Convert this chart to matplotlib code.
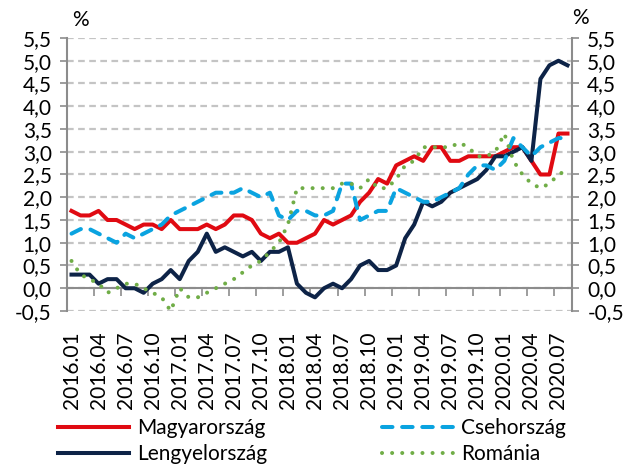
import matplotlib.pyplot as plt
import numpy as np
import pandas as pd
from matplotlib.ticker import FuncFormatter

plt.rcParams['font.family'] = ['Lato', 'DejaVu Sans']

# monthly data 2016.01 - 2020.08
months = pd.period_range('2016-01', '2020-08', freq='M').strftime('%Y.%m').tolist()

hungary = [1.7, 1.6, 1.6, 1.7, 1.5, 1.5, 1.4, 1.3, 1.4, 1.4,
           1.3, 1.5, 1.3, 1.3, 1.3, 1.4, 1.3, 1.4, 1.6, 1.6,
           1.5, 1.2, 1.1, 1.2, 1.0, 1.0, 1.1, 1.2, 1.5, 1.4,
           1.5, 1.6, 1.9, 2.1, 2.4, 2.3, 2.7, 2.8, 2.9, 2.8,
           3.1, 3.1, 2.8, 2.8, 2.9, 2.9, 2.9, 2.9, 3.0, 3.1,
           3.1, 2.8, 2.5, 2.5, 3.4, 3.4]
poland = [0.3, 0.3, 0.3, 0.1, 0.2, 0.2, 0.0, 0.0, -0.1, 0.1,
          0.2, 0.4, 0.2, 0.6, 0.8, 1.2, 0.8, 0.9, 0.8, 0.7,
          0.8, 0.6, 0.8, 0.8, 0.9, 0.1, -0.1, -0.2, 0.0, 0.1,
          0.0, 0.2, 0.5, 0.6, 0.4, 0.4, 0.5, 1.1, 1.4, 1.9,
          1.8, 1.9, 2.1, 2.2, 2.3, 2.4, 2.6, 2.9, 2.9, 3.0,
          3.1, 2.8, 4.6, 4.9, 5.0, 4.9]
czechia = [1.2, 1.3, 1.3, 1.2, 1.1, 1.0, 1.2, 1.1, 1.2, 1.3,
           1.4, 1.6, 1.7, 1.8, 1.9, 2.0, 2.1, 2.1, 2.1, 2.2,
           2.1, 2.0, 2.1, 1.6, 1.5, 1.7, 1.7, 1.6, 1.6, 1.7,
           2.3, 2.3, 1.5, 1.6, 1.7, 1.7, 2.2, 2.1, 2.0, 1.9,
           1.9, 2.0, 2.1, 2.2, 2.5, 2.7, 2.7, 2.6, 2.8, 3.3,
           3.1, 2.9, 3.1, 3.2, 3.3, 3.3]
romania = [0.6, 0.3, 0.2, 0.1, -0.1, 0.0, 0.1, 0.1, 0.0, -0.1,
           -0.2, -0.5, 0.0, -0.2, -0.2, -0.1, 0.0, 0.1, 0.2, 0.35,
           0.5, 0.6, 0.8, 1.0, 1.4, 2.2, 2.2, 2.2, 2.2, 2.2,
           2.3, 2.3, 2.2, 2.4, 2.2, 2.2, 2.4, 2.7, 2.8, 3.1,
           3.1, 3.1, 3.1, 3.2, 3.1, 2.9, 2.9, 3.0, 3.4, 2.8,
           2.5, 2.3, 2.2, 2.3, 2.5, 2.6]

W, H = 631, 469
fig = plt.figure(figsize=(W / 100, H / 100), dpi=100)
ax = fig.add_axes([67 / W, 1 - 311 / H, (572 - 67) / W, (311 - 38) / H])

x = np.arange(len(months))
lw = 2.9
l_hu, = ax.plot(x, hungary, color='#e00a12', lw=lw, label='Magyarország', zorder=3)
l_pl, = ax.plot(x, poland, color='#0d2347', lw=lw, label='Lengyelország', zorder=3)
l_cz, = ax.plot(x, czechia, color='#0aa3e0', lw=lw, label='Csehország', zorder=3,
                dashes=(2.6, 2.4), dash_capstyle='round')
l_ro, = ax.plot(x, romania, color='#70ad47', lw=lw, label='Románia', zorder=3,
                dashes=(0.01, 2.5), dash_capstyle='round')

ax.set_xlim(-0.5, len(months) - 0.5)
ax.set_ylim(-0.5, 5.5)
ax.set_yticks(np.arange(-0.5, 5.51, 0.5))
ax.yaxis.set_major_formatter(FuncFormatter(lambda v, p: f'{v:.1f}'.replace('.', ',')))
ax.tick_params(axis='y', left=True, right=True, labelleft=True, labelright=True,
               direction='out', length=5, width=1.2, color='#8c8c8c', labelsize=15, pad=6)
ax.grid(axis='y', color='#c4c4c4', linestyle=(0, (3, 2)), lw=1.6)
ax.set_axisbelow(True)

for s in ['left', 'right', 'bottom']:
    ax.spines[s].set_color('#8c8c8c')
    ax.spines[s].set_linewidth(1.5)
ax.spines['top'].set_visible(False)
ax.spines['bottom'].set_position(('data', 0))

ax.set_xticks(x[::3], labels=months[::3], rotation=90)
ax.set_xticks(np.arange(-0.5, len(months), 3), minor=True)
ax.tick_params(axis='x', which='major', length=0, pad=31, labelsize=15)
ax.tick_params(axis='x', which='minor', length=6, width=1.2, direction='out', color='#8c8c8c')

fig.text(80 / W, 1 - 20 / H, '%', ha='center', va='center', fontsize=15)
fig.text(580 / W, 1 - 18 / H, '%', ha='center', va='center', fontsize=15)

fig.legend(handles=[l_hu, l_pl, l_cz, l_ro], ncol=2, loc='upper left',
           bbox_to_anchor=(58 / W, 1 - 418 / H), frameon=False, fontsize=15,
           borderpad=0, borderaxespad=0, handlelength=3.4, handletextpad=0.4,
           columnspacing=5.5, labelspacing=0.3)

fig.savefig('out.png', dpi=100)
